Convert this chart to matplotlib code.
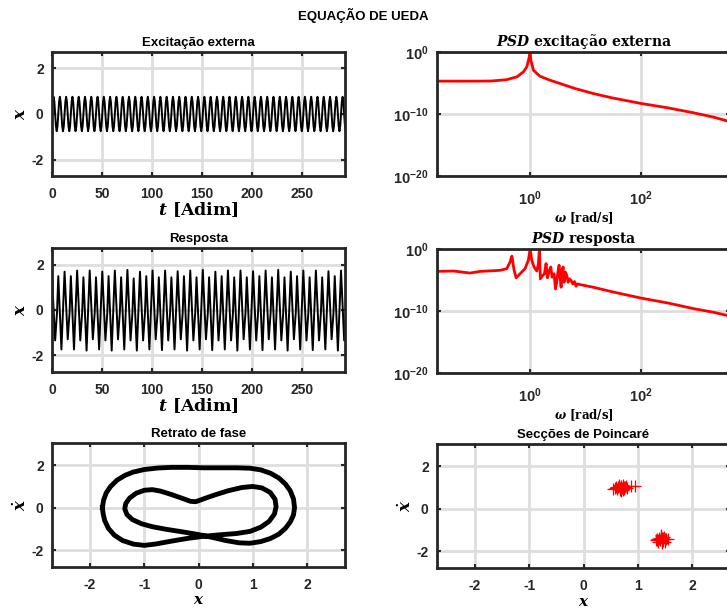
import numpy as np
import matplotlib
matplotlib.use('Agg')
import matplotlib.pyplot as plt

# ---- data ----
# one cycle of the forcing, sampled every pi/4
exc_cycle = [0.0, 0.53, 0.75, 0.53, 0.0, -0.53, -0.75, -0.53]
exc_ncycles = 47

# response: period-2 motion, each 4*pi cycle has
# [outer max, inner min, kink near 0, inner max, outer min]
resp_cycle_t = [0.0, 1.0, 1.6, 2.0, 3.0]  # in units of pi
resp_cycles = [
    [1.45, -1.35, -0.10, 1.50, -1.75],
    [1.70, -1.30, -0.10, 1.50, -1.75],
    [1.75, -1.35, -0.12, 1.45, -1.80],
    [1.75, -1.30, -0.10, 1.45, -1.75],
    [1.70, -1.35, -0.12, 1.50, -1.80],
    [1.75, -1.30, -0.10, 1.45, -1.75],
    [1.78, -1.35, -0.12, 1.40, -1.80],
    [1.70, -1.35, -0.10, 1.50, -1.75],
    [1.75, -1.30, -0.12, 1.45, -1.78],
    [1.75, -1.35, -0.10, 1.45, -1.75],
    [1.72, -1.30, -0.12, 1.50, -1.80],
    [1.75, -1.35, -0.10, 1.45, -1.75],
    [1.78, -1.30, -0.12, 1.45, -1.78],
    [1.70, -1.35, -0.10, 1.50, -1.75],
    [1.75, -1.35, -0.12, 1.45, -1.80],
    [1.75, -1.30, -0.10, 1.45, -1.75],
    [1.72, -1.35, -0.12, 1.50, -1.78],
    [1.75, -1.30, -0.10, 1.45, -1.75],
    [1.78, -1.35, -0.12, 1.45, -1.80],
    [1.70, -1.30, -0.10, 1.50, -1.75],
    [1.75, -1.35, -0.12, 1.45, -1.78],
    [1.75, -1.35, -0.10, 1.45, -1.75],
    [1.72, -1.30, -0.12, 1.50, -1.80],
    [1.75, -1.35, -0.10, 1.45, -1.75],
]

# PSD of the forcing (omega, log10 PSD)
exc_w = [0.021, 0.05, 0.1, 0.2, 0.38, 0.58, 0.76, 0.87, 0.95, 0.985, 1.0,
         1.03, 1.15, 1.5, 2.2, 3.5, 6.5, 13.8, 30, 100, 300, 876, 2000, 3500, 4000]
exc_logpsd = [-4.7, -4.7, -4.7, -4.68, -4.46, -4.0, -3.2, -2.4, -1.1, -0.3, 0.0,
              -1.3, -2.95, -3.9, -4.5, -5.1, -5.9, -6.7, -7.4, -8.3, -9.0, -9.8,
              -10.5, -11.1, -11.3]

# PSD of the response (omega, log10 PSD)
resp_w = [0.021, 0.042, 0.083, 0.126, 0.288, 0.38, 0.436, 0.47, 0.515, 0.56,
          0.66, 0.81, 0.93, 1.0, 1.07, 1.18, 1.32, 1.41, 1.47, 1.53, 1.69,
          1.81, 1.94, 2.05, 2.23, 2.36, 2.49, 2.71, 2.86, 3.02, 3.2, 3.33,
          3.47, 3.62, 3.77, 3.93, 4.1, 4.33, 4.58, 4.84, 5.11, 5.48, 5.87,
          6.29, 6.74, 7.12, 7.95, 13.8, 30, 100, 300, 880, 2000, 3500, 4000]
resp_logpsd = [-3.61, -3.55, -3.88, -3.61, -3.44, -3.17, -2.08, -1.15, -3.44,
               -4.64, -3.99, -3.17, -1.8, 0.0, -1.8, -2.9, -3.55, -2.35, -0.05,
               -4.81, -4.26, -3.99, -2.35, -4.64, -3.44, -2.9, -4.54, -3.99,
               -6.45, -5.36, -3.44, -2.62, -4.54, -6.17, -3.44, -2.9, -5.36,
               -3.72, -4.26, -5.36, -4.81, -5.08, -5.63, -5.25, -6.01, -5.63,
               -5.74, -6.17, -6.9, -7.92, -8.7, -9.62, -10.2, -10.7, -10.9]

# phase portrait: closed period-2 orbit (x, xdot)
phase_x = [-1.77, -1.75, -1.70, -1.62, -1.50, -1.35, -1.20, -1.00, -0.75, -0.50,
           -0.20, 0.10, 0.40, 0.70, 0.95, 1.15, 1.33, 1.48, 1.60, 1.69, 1.75,
           1.77, 1.75, 1.69, 1.60, 1.48, 1.33, 1.15, 0.95, 0.75, 0.50, 0.25,
           0.00, -0.30, -0.60, -0.85, -1.05, -1.22, -1.32, -1.36, -1.34, -1.27,
           -1.15, -1.00, -0.85, -0.70, -0.50, -0.30, -0.15, -0.05, 0.10, 0.30,
           0.55, 0.80, 1.00, 1.17, 1.32, 1.41, 1.43, 1.40, 1.30, 1.15, 0.95,
           0.70, 0.40, 0.10, -0.20, -0.50, -0.80, -1.00, -1.20, -1.40, -1.55,
           -1.66, -1.73, -1.76, -1.77]
phase_v = [0.00, 0.35, 0.70, 1.00, 1.30, 1.53, 1.68, 1.80, 1.87, 1.90, 1.90,
           1.88, 1.88, 1.88, 1.86, 1.78, 1.62, 1.40, 1.12, 0.80, 0.42, 0.00,
           -0.35, -0.68, -0.98, -1.25, -1.45, -1.60, -1.68, -1.66, -1.55, -1.40,
           -1.27, -1.14, -1.02, -0.90, -0.76, -0.56, -0.32, -0.05, 0.20, 0.45,
           0.68, 0.82, 0.85, 0.78, 0.62, 0.44, 0.30, 0.28, 0.42, 0.60, 0.80,
           0.95, 1.00, 0.93, 0.72, 0.40, 0.05, -0.30, -0.65, -0.92, -1.12,
           -1.22, -1.28, -1.35, -1.45, -1.58, -1.72, -1.78, -1.72, -1.55, -1.30,
           -0.98, -0.60, -0.25, 0.00]

# Poincare section points
poinc_x = [0.55, 0.60, 0.62, 0.65, 0.68, 0.70, 0.72, 0.75, 0.78, 0.80, 0.66,
           0.70, 0.74, 0.63, 0.69, 0.76, 0.71, 0.67, 0.73, 0.58, 0.88, 0.95,
           1.35, 1.40, 1.45, 1.50, 1.42, 1.38, 1.48, 1.44, 1.52, 1.41, 1.46,
           1.36, 1.55, 1.43, 1.47, 1.39, 1.44, 1.50, 1.33, 1.45]
poinc_v = [0.95, 1.00, 0.92, 1.05, 0.98, 1.02, 0.90, 1.00, 1.05, 0.97, 1.10,
           0.85, 0.95, 1.00, 1.08, 1.02, 0.96, 0.90, 1.12, 0.98, 1.06, 1.05,
           -1.45, -1.40, -1.50, -1.42, -1.30, -1.55, -1.35, -1.60, -1.45, -1.48,
           -1.38, -1.50, -1.43, -1.25, -1.52, -1.42, -1.47, -1.55, -1.46, -1.40]

# ---- styling ----
plt.rcParams['font.family'] = ['Liberation Sans', 'DejaVu Sans']
plt.rcParams['font.weight'] = 'bold'
plt.rcParams['axes.unicode_minus'] = False
plt.rcParams['mathtext.fontset'] = 'custom'
plt.rcParams['mathtext.it'] = 'DejaVu Serif:italic:bold'
plt.rcParams['mathtext.rm'] = 'DejaVu Serif:bold'
plt.rcParams['mathtext.bf'] = 'Liberation Sans:bold'

DARK = '#262626'
GRID = '#dedede'
TICK_FS = 10
TITLE_FS = 9.5

W, H = 727, 613
fig = plt.figure(figsize=(W / 100, H / 100), dpi=100)


def make_ax(px_left, px_top, px_w=293, px_h=124):
    ax = fig.add_axes([px_left / W, 1 - (px_top + px_h) / H, px_w / W, px_h / H])
    for s in ax.spines.values():
        s.set_color(DARK)
        s.set_linewidth(2)
    ax.tick_params(direction='in', top=True, right=True, length=3, width=1.5,
                   colors=DARK, labelsize=TICK_FS, pad=6)
    ax.tick_params(axis='x', pad=8)
    ax.grid(True, color=GRID, linewidth=2)
    ax.set_axisbelow(True)
    return ax


def serif(size):
    return dict(fontsize=size, fontfamily='DejaVu Serif', fontweight='bold',
                color='black')


# excitation
t_exc = np.arange(len(exc_cycle) * exc_ncycles + 1) * np.pi / 4
x_exc = np.array(exc_cycle * exc_ncycles + [exc_cycle[0]])
ax1 = make_ax(52, 52)
ax1.plot(t_exc, x_exc, color='black', lw=1.4)
ax1.set_xlim(0, 293)
ax1.set_ylim(-2.7, 2.7)
ax1.set_xticks([0, 50, 100, 150, 200, 250])
ax1.set_yticks([-2, 0, 2])
ax1.set_title('Excitação externa', fontsize=TITLE_FS, fontweight='bold', pad=4)
ax1.set_xlabel(r'$t$ [Adim]', labelpad=-1, **serif(12.5))
ax1.set_ylabel(r'$x$', labelpad=2, **serif(12))

# response
t_resp, x_resp = [], []
for k, cyc in enumerate(resp_cycles):
    for dt, v in zip(resp_cycle_t, cyc):
        t_resp.append((4 * k + dt) * np.pi)
        x_resp.append(v)
ax2 = make_ax(52, 248)
ax2.plot(t_resp, x_resp, color='black', lw=1.4)
ax2.set_xlim(0, 293)
ax2.set_ylim(-2.75, 2.75)
ax2.set_xticks([0, 50, 100, 150, 200, 250])
ax2.set_yticks([-2, 0, 2])
ax2.set_title('Resposta', fontsize=TITLE_FS, fontweight='bold', pad=4)
ax2.set_xlabel(r'$t$ [Adim]', labelpad=-1, **serif(12.5))
ax2.set_ylabel(r'$x$', labelpad=2, **serif(12))

# phase portrait
ax3 = make_ax(52, 443)
ax3.plot(phase_x, phase_v, color='black', lw=3.5, solid_joinstyle='round')
ax3.set_xlim(-2.7, 2.7)
ax3.set_ylim(-2.8, 3.05)
ax3.set_xticks([-2, -1, 0, 1, 2])
ax3.set_yticks([-2, 0, 2])
ax3.set_title('Retrato de fase', fontsize=TITLE_FS, fontweight='bold', pad=4)
ax3.set_xlabel(r'$x$', labelpad=1, **serif(11))
ax3.set_ylabel(r'$\dot{x}$', labelpad=1, **serif(12))


def psd_axes(ax, title):
    ax.set_xscale('log')
    ax.set_yscale('log')
    ax.set_xlim(0.021, 4000)
    ax.set_ylim(1e-20, 1)
    ax.set_xticks([1, 100])
    ax.set_xticklabels([r'$\mathbf{10^{0}}$', r'$\mathbf{10^{2}}$'])
    ax.set_yticks([1e-20, 1e-10, 1])
    ax.set_yticklabels([r'$\mathbf{10^{-20}}$', r'$\mathbf{10^{-10}}$',
                        r'$\mathbf{10^{0}}$'])
    ax.minorticks_off()
    ax.tick_params(labelsize=10.5)
    ax.tick_params(axis='x', pad=10)
    ax.set_title(title, pad=4, **serif(10))
    ax.set_xlabel(r'$\omega$ [rad/s]', labelpad=1, **serif(8.5))


ax4 = make_ax(437, 52)
ax4.plot(exc_w, 10 ** np.array(exc_logpsd), color='red', lw=2)
psd_axes(ax4, r'$PSD$ excitação externa')

ax5 = make_ax(437, 249)
ax5.plot(resp_w, 10 ** np.array(resp_logpsd), color='red', lw=2)
psd_axes(ax5, r'$PSD$ resposta')

# poincare
ax6 = make_ax(437, 444)
ax6.plot(poinc_x, poinc_v, '+', color='red', ms=8, mew=0.9)
ax6.set_xlim(-2.7, 2.7)
ax6.set_ylim(-2.8, 3.05)
ax6.set_xticks([-2, -1, 0, 1, 2])
ax6.set_yticks([-2, 0, 2])
ax6.set_title('Secções de Poincaré', fontsize=TITLE_FS, fontweight='bold', pad=4)
ax6.set_xlabel(r'$x$', labelpad=1, **serif(11))
ax6.set_ylabel(r'$\dot{x}$', labelpad=1, **serif(12))

fig.text(0.5, 1 - 15 / H, 'EQUAÇÃO DE UEDA', ha='center', va='center',
         fontsize=9.5, fontweight='bold', color='black')

fig.savefig('out.png', dpi=100)
